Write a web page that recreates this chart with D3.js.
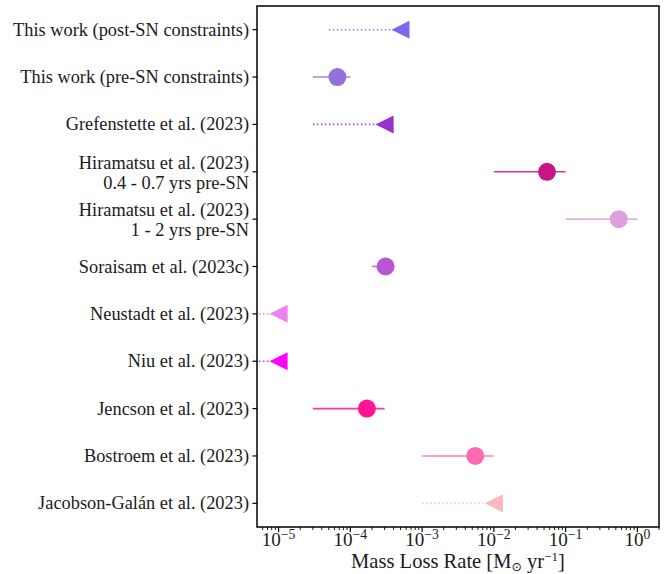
<!DOCTYPE html>
<html>
<head>
<meta charset="utf-8">
<script src="https://cdn.jsdelivr.net/npm/d3@7"></script>
<style>
  html, body { margin: 0; padding: 0; background: #fff; }
  svg { display: block; }
</style>
</head>
<body>
<svg id="chart" width="668" height="574"></svg>
<script>
// ---- data ----
const categories = [
  ["This work (post-SN constraints)"],
  ["This work (pre-SN constraints)"],
  ["Grefenstette et al. (2023)"],
  ["Hiramatsu et al. (2023)", "0.4 - 0.7 yrs pre-SN"],
  ["Hiramatsu et al. (2023)", "1 - 2 yrs pre-SN"],
  ["Soraisam et al. (2023c)"],
  ["Neustadt et al. (2023)"],
  ["Niu et al. (2023)"],
  ["Jencson et al. (2023)"],
  ["Bostroem et al. (2023)"],
  ["Jacobson-Galán et al. (2023)"]
];
const values = [5e-4, 6.6e-5, 3e-4, 0.055, 0.55, 3.1e-4, 1e-5, 1e-5, 1.7e-4, 5.5e-3, 1e-2];
const lowerBounds = [5e-5, 3e-5, 3e-5, 1e-2, 1e-1, 2e-4, 1e-6, 1e-6, 3e-5, 1e-3, 1e-3];
const upperBounds = [5e-4, 1e-4, 3e-4, 1e-1, 1, 4e-4, 1e-5, 1e-5, 3e-4, 1e-2, 1e-2];
const isUpperLimit = [true, false, true, false, false, false, true, true, false, false, true];
const colors = ["#7B68EE", "#9370DB", "#9932CC", "#C71585", "#DDA0DD", "#BA55D3",
                "#EE82EE", "#FF00FF", "#FF1493", "#FF69B4", "#FFB6C1"];
const xTickExponents = [-5, -4, -3, -2, -1, 0];
const xDomain = [5e-6, 2];

const FONT = "'Liberation Serif', 'Times New Roman', serif";

// ---- layout ----
const svg = d3.select("#chart");
const L = 257, R = 659, T = 6, B = 527;
const x = d3.scaleLog().domain(xDomain).range([L, R]);
const y = d3.scaleLinear().domain([-0.5, categories.length - 0.5]).range([T, B]);

function measure(str, size) {
  const t = svg.append("text").attr("font-family", FONT).attr("font-size", size).text(str);
  const w = t.node().getComputedTextLength();
  t.remove();
  return w;
}
const labelSize = 17 * 236 / measure("This work (post-SN constraints)", 17);
const tickSize = labelSize * 1.04;
const xLabelSize = labelSize * 1.12;

svg.append("defs").append("clipPath").attr("id", "clip")
  .append("rect").attr("x", L).attr("y", T).attr("width", R - L).attr("height", B - T);

const plot = svg.append("g").attr("clip-path", "url(#clip)");

const data = categories.map((c, i) => ({
  i, value: values[i], lo: lowerBounds[i], hi: upperBounds[i], lim: isUpperLimit[i], color: colors[i]
}));

plot.selectAll("line.err").data(data).enter().append("line")
  .attr("class", "err")
  .attr("x1", d => x(d.lo)).attr("x2", d => x(d.hi))
  .attr("y1", d => y(d.i)).attr("y2", d => y(d.i))
  .attr("stroke", d => d.color)
  .attr("stroke-opacity", 0.85)
  .attr("stroke-width", 1.6)
  .attr("stroke-dasharray", d => d.lim ? "1.6,2.4" : null);

const ms = 9;
plot.selectAll("circle.pt").data(data.filter(d => !d.lim)).enter().append("circle")
  .attr("class", "pt")
  .attr("cx", d => x(d.value)).attr("cy", d => y(d.i)).attr("r", ms)
  .attr("fill", d => d.color);

plot.selectAll("path.lim").data(data.filter(d => d.lim)).enter().append("path")
  .attr("class", "lim")
  .attr("transform", d => `translate(${x(d.value)},${y(d.i)})`)
  .attr("d", `M${-ms},0L${ms},${-ms}L${ms},${ms}Z`)
  .attr("fill", d => d.color);

svg.append("rect").attr("x", L).attr("y", T).attr("width", R - L).attr("height", B - T)
  .attr("fill", "none").attr("stroke", "#000").attr("stroke-width", 1.5);

// y ticks + labels
const yAxis = svg.append("g").attr("font-family", FONT).attr("fill", "#1a1a1a");
data.forEach(d => {
  const yy = y(d.i);
  yAxis.append("line").attr("x1", L - 4.5).attr("x2", L).attr("y1", yy).attr("y2", yy)
    .attr("stroke", "#000").attr("stroke-width", 1.2);
  const lines = categories[d.i];
  const t = yAxis.append("text").attr("text-anchor", "end").attr("font-size", labelSize);
  if (lines.length === 1) {
    t.append("tspan").attr("x", 249).attr("y", yy).attr("dy", "0.33em").text(lines[0]);
  } else {
    t.append("tspan").attr("x", 249).attr("y", yy - 9).attr("dy", "0.33em").text(lines[0]);
    t.append("tspan").attr("x", 249).attr("y", yy + 11).attr("dy", "0.33em").text(lines[1]);
  }
});

// x ticks
const xAxis = svg.append("g").attr("font-family", FONT).attr("fill", "#1a1a1a");
const minorTicks = [];
for (let e = -6; e <= 0; e++) {
  for (let m = 1; m <= 9; m++) {
    const v = m * Math.pow(10, e);
    if (v >= xDomain[0] && v <= xDomain[1]) minorTicks.push({ v, major: m === 1 });
  }
}
xAxis.selectAll("line.tick").data(minorTicks).enter().append("line")
  .attr("x1", d => x(d.v)).attr("x2", d => x(d.v))
  .attr("y1", B).attr("y2", d => B + (d.major ? 5 : 3))
  .attr("stroke", "#000").attr("stroke-width", d => d.major ? 1.2 : 0.9);

xTickExponents.forEach(e => {
  const t = xAxis.append("text").attr("x", x(Math.pow(10, e))).attr("y", 546)
    .attr("text-anchor", "middle").attr("font-size", tickSize);
  t.append("tspan").text("10");
  t.append("tspan").attr("font-size", tickSize * 0.72).attr("dy", -7).text(e < 0 ? "\u2212" + (-e) : String(e));
});

// x label
const xl = svg.append("text").attr("x", (L + R) / 2).attr("y", 568)
  .attr("text-anchor", "middle").attr("font-size", xLabelSize)
  .attr("font-family", FONT).attr("fill", "#1a1a1a");
xl.append("tspan").text("Mass Loss Rate [M");
xl.append("tspan").attr("font-size", 12.5).attr("dy", 3).attr("font-family", "'DejaVu Sans', sans-serif").text("\u2299");
xl.append("tspan").attr("dy", -3).text(" yr");
xl.append("tspan").attr("font-size", 13).attr("dy", -7).text("\u22121");
xl.append("tspan").attr("dy", 7).text("]");
</script>
</body>
</html>
